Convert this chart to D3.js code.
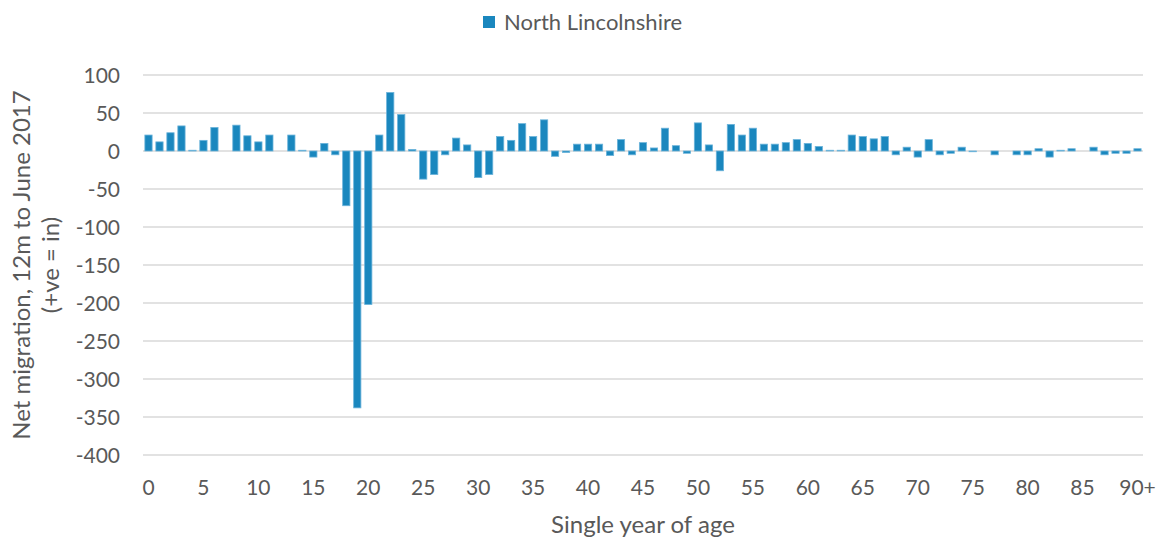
<!DOCTYPE html>
<html>
<head>
<meta charset="utf-8">
<script src="https://cdn.jsdelivr.net/npm/d3@7"></script>
<style>
  body { margin: 0; background: #fff; }
  text { font-family: Lato, "Open Sans", sans-serif; fill: #595959; }
</style>
</head>
<body>
<div id="chart"></div>
<script>
const seriesName = 'North Lincolnshire';
const ages = d3.range(0, 91).map(a => a === 90 ? '90+' : String(a));
const netMigration = [
  21, 12, 24, 33, 1, 14, 31, 0, 34, 20,
  12, 21, 0, 21, 1, -8, 10, -5, -72, -338,
  -202, 21, 77, 48, 2, -37, -31, -5, 17, 8,
  -35, -31, 19, 14, 36, 19, 41, -7, -2, 9,
  9, 9, -6, 15, -5, 11, 4, 30, 7, -3,
  37, 8, -26, 35, 21, 30, 9, 9, 11, 15,
  10, 6, 1, 1, 21, 19, 16, 19, -5, 5,
  -8, 15, -5, -3, 5, -1, 0, -5, 0, -5,
  -5, 3, -8, 1, 3, 0, 5, -5, -3, -3,
  3
];
const yTicks = [100, 50, 0, -50, -100, -150, -200, -250, -300, -350, -400];
const xTickLabels = ['0', '5', '10', '15', '20', '25', '30', '35', '40', '45', '50', '55', '60', '65', '70', '75', '80', '85', '90+'];

const width = 1162, height = 538;
const margin = { top: 75, right: 19, bottom: 83, left: 143 };

const svg = d3.select('#chart')
  .append('svg')
  .attr('width', width)
  .attr('height', height);

const x = d3.scaleBand()
  .domain(ages)
  .range([margin.left, width - margin.right])
  .paddingInner(0.34)
  .paddingOuter(0.17);

const y = d3.scaleLinear()
  .domain([-400, 100])
  .range([height - margin.bottom, margin.top]);

// gridlines
svg.append('g')
  .selectAll('line')
  .data(yTicks)
  .join('line')
    .attr('x1', margin.left)
    .attr('x2', width - margin.right)
    .attr('y1', d => y(d))
    .attr('y2', d => y(d))
    .attr('stroke', '#d9d9d9')
    .attr('stroke-width', 1.5);

// y tick labels
svg.append('g')
  .selectAll('text')
  .data(yTicks)
  .join('text')
    .attr('x', 120)
    .attr('y', d => y(d))
    .attr('dy', '0.36em')
    .attr('text-anchor', 'end')
    .attr('font-size', 21)
    .text(d => d);

// bars
svg.append('g')
  .selectAll('rect')
  .data(netMigration)
  .join('rect')
    .attr('x', (d, i) => x(ages[i]))
    .attr('width', x.bandwidth())
    .attr('y', d => y(Math.max(0, d)))
    .attr('height', d => Math.abs(y(d) - y(0)))
    .attr('fill', '#1a87be')
    .attr('stroke', '#6bb3da')
    .attr('stroke-width', 0.8);

// x tick labels
svg.append('g')
  .selectAll('text')
  .data(xTickLabels)
  .join('text')
    .attr('x', d => x(d) + x.bandwidth() / 2)
    .attr('y', 495)
    .attr('text-anchor', 'middle')
    .attr('font-size', 21)
    .text(d => d);

// axis titles
svg.append('text')
  .attr('x', (margin.left + width - margin.right) / 2)
  .attr('y', 533)
  .attr('text-anchor', 'middle')
  .attr('font-size', 24)
  .text('Single year of age');

const yTitle = svg.append('text')
  .attr('transform', 'translate(0,265) rotate(-90)')
  .attr('text-anchor', 'middle')
  .attr('font-size', 24);
yTitle.append('tspan').attr('x', 0).attr('y', 30).text('Net migration, 12m to June 2017');
yTitle.append('tspan').attr('x', 0).attr('y', 59).text('(+ve = in)');

// legend
const legend = svg.append('g').attr('transform', 'translate(483,16)');
legend.append('rect')
  .attr('width', 12)
  .attr('height', 12)
  .attr('fill', '#1a87be');
legend.append('text')
  .attr('x', 21)
  .attr('y', 14)
  .attr('font-size', 22)
  .text(seriesName);
</script>
</body>
</html>
